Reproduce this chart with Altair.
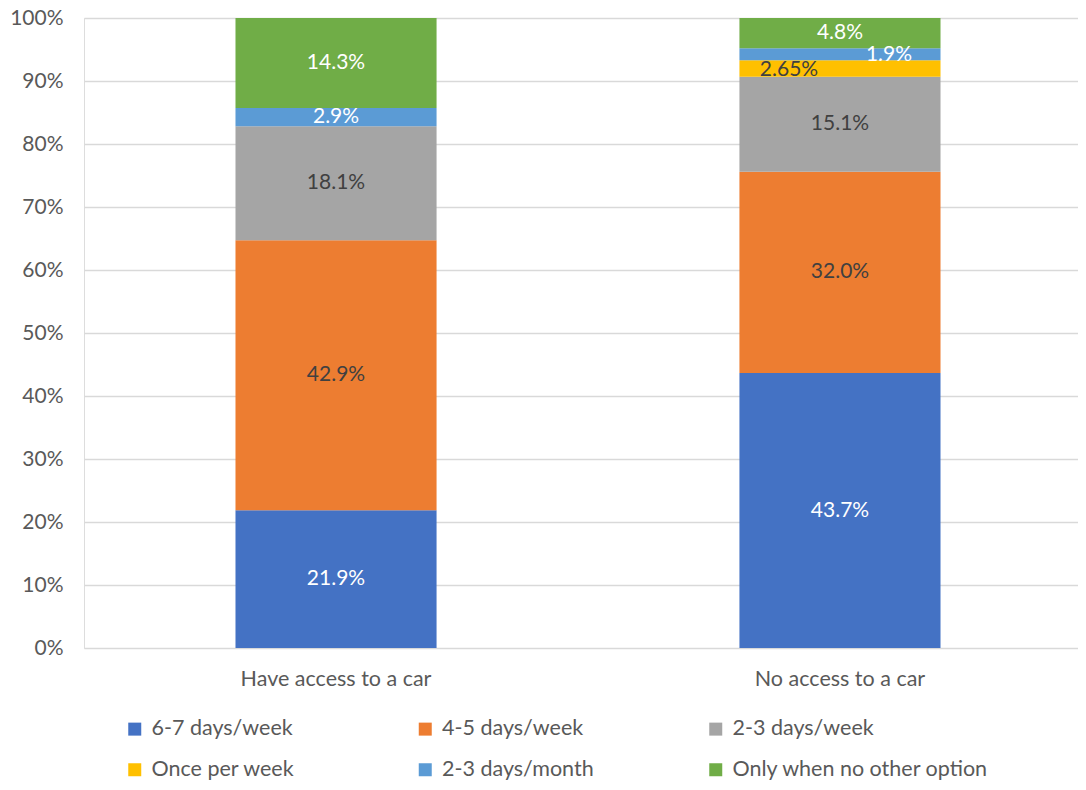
import altair as alt
import pandas as pd

categories = ["Have access to a car", "No access to a car"]
series = ["6-7 days/week", "4-5 days/week", "2-3 days/week",
          "Once per week", "2-3 days/month", "Only when no other option"]
colors = ["#4472C4", "#ED7D31", "#A5A5A5", "#FFC000", "#5B9BD5", "#70AD47"]
have_car = [21.9, 42.9, 18.1, 0.0, 2.9, 14.3]
no_car = [43.7, 32.0, 15.1, 2.65, 1.9, 4.8]
y_ticks = [0, 0.1, 0.2, 0.3, 0.4, 0.5, 0.6, 0.7, 0.8, 0.9, 1.0]


def fmt(v):
    s = f"{v:.2f}"
    if s.endswith("0"):
        s = s[:-1]
    return s + "%"


rows = []
for cat, vals in zip(categories, [have_car, no_car]):
    for i, (s, v) in enumerate(zip(series, vals)):
        rows.append({"category": cat, "series": s, "order": i, "value": v,
                     "label": fmt(v) if v > 0 else ""})
df = pd.DataFrame(rows)

FONT = "Lato"
TXT = "#595959"

base = alt.Chart(df)

bars = base.mark_bar().encode(
    x=alt.X("category:N", sort=categories, title=None,
            scale=alt.Scale(range=[0, 1008], paddingInner=0.601, paddingOuter=0.3006),
            axis=alt.Axis(labelFontSize=21.5, labelColor=TXT, labelFont=FONT,
                          ticks=False, domain=False, labelPadding=20, labelAngle=0,
                          labelLimit=400)),
    y=alt.Y("value:Q", stack="normalize", title=None,
            scale=alt.Scale(domain=[0, 1]),
            axis=alt.Axis(format=".0%", values=y_ticks, labelFontSize=21,
                          labelColor=TXT, labelFont=FONT, ticks=False, domain=False,
                          labelPadding=21, gridColor="#D9D9D9", gridWidth=1.3)),
    color=alt.Color("series:N", sort=series,
                    scale=alt.Scale(domain=series, range=colors),
                    legend=alt.Legend(title=None, orient="none", legendX=40, legendY=700,
                                      direction="horizontal",
                                      columns=3, gridAlign="all", columnPadding=6.5,
                                      rowPadding=18, symbolType="square",
                                      symbolSize=169, symbolStrokeWidth=0,
                                      labelFontSize=21.5, labelFont=FONT,
                                      labelColor=TXT, labelOffset=6, labelLimit=400)),
    order=alt.Order("order:Q"),
)

lab_base = base.transform_filter("datum.value > 0").transform_joinaggregate(
    total="sum(value)", groupby=["category"]
).transform_window(
    cum="sum(value)", sort=[alt.SortField("order")], groupby=["category"]
).transform_calculate(
    mid="(datum.cum - datum.value / 2) / datum.total"
)

text_color = alt.condition(
    alt.FieldOneOfPredicate(field="series",
                            oneOf=["6-7 days/week", "2-3 days/month",
                                   "Only when no other option"]),
    alt.value("white"), alt.value("#404040"))

enc = dict(
    x=alt.X("category:N", sort=categories),
    y=alt.Y("mid:Q"),
    text="label:N",
    color=text_color,
)

FS = 21

labels_main = lab_base.transform_filter(
    "!(datum.category == 'No access to a car' && (datum.series == 'Once per week' || datum.series == '2-3 days/month'))"
).mark_text(font=FONT, fontSize=FS).encode(**enc)

labels_left = lab_base.transform_filter(
    "datum.category == 'No access to a car' && datum.series == 'Once per week'"
).mark_text(font=FONT, fontSize=FS, dx=-51, dy=2).encode(**enc)

labels_right = lab_base.transform_filter(
    "datum.category == 'No access to a car' && datum.series == '2-3 days/month'"
).mark_text(font=FONT, fontSize=FS, dx=49, dy=1).encode(**enc)

chart = alt.layer(bars, labels_main, labels_left, labels_right).properties(
    width=994, height=630,
    autosize=alt.AutoSizeParams(type="none"),
    padding={"left": 76, "top": 10, "right": 0, "bottom": 134},
).configure_view(stroke=None).configure(font=FONT)

chart.save("out.html", embed_options={"renderer": "svg", "actions": False})
